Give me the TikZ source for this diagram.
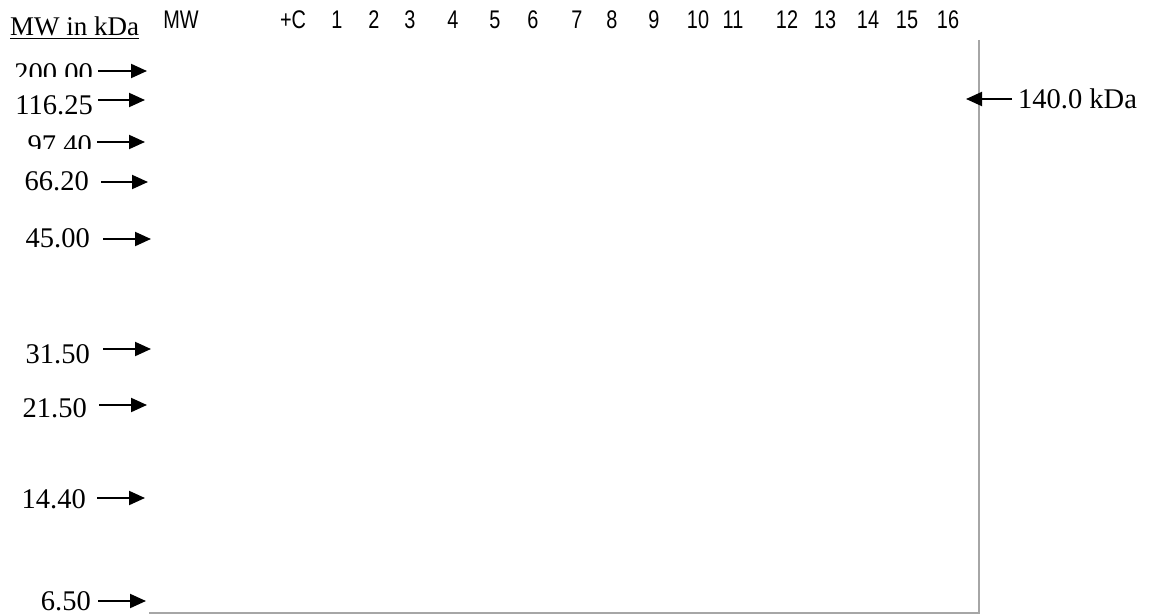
\documentclass[tikz,border=0pt]{standalone}
\usepackage{fontspec}
\setmainfont{Liberation Serif}
\newfontfamily\lanefont[FakeStretch=0.78]{Liberation Sans}
\usetikzlibrary{arrows.meta}
\tikzset{
  mwlabel/.style={anchor=base east, inner sep=0pt, font=\fontsize{28.5}{30}\selectfont},
  lanelabel/.style={anchor=base, inner sep=0pt, font=\lanefont\fontsize{25.5}{27}\selectfont},
  mwarrow/.style={line width=2pt, -{Triangle[length=16pt,width=14pt]}},
  gelline/.style={line width=1.4pt, draw=black!35},
}
\begin{document}
\begin{tikzpicture}[x=1pt,y=-1pt]
\useasboundingbox (0,0) rectangle (1151,615);
% header
\node[anchor=base west, inner sep=0pt, font=\fontsize{27}{29}\selectfont] (hdr) at (10,36) {\underline{MW in kDa}};
% lane labels
\foreach \name/\xx/\txt in {lmw/181/MW, lc/293/+C, l1/337/1, l2/374/2, l3/410/3, l4/453/4, l5/495/5, l6/533/6, l7/577/7, l8/612/8, l9/654/9, l10/698/10, l11/733/11, l12/787/12, l13/825/13, l14/868/14, l15/907/15, l16/948/16}
  \node[lanelabel] (\name) at (\xx,29) {\txt};
% gel frame
\coordinate (gtop) at (979,40);
\coordinate (gcorner) at (979,613);
\coordinate (gleft) at (149,613);
\draw[gelline] (gtop) -- (gcorner) -- (gleft);
% marker labels (some clipped as in the original)
\begin{scope}
  \clip (0,50) rectangle (97,77);
  \node[mwlabel] (m200) at (93,83) {200.00};
\end{scope}
\node[mwlabel] (m116) at (93,115) {116.25};
\begin{scope}
  \clip (0,125) rectangle (97,149);
  \node[mwlabel] (m97) at (92,154) {97.40};
\end{scope}
\node[mwlabel] (m66) at (89,190) {66.20};
\node[mwlabel] (m45) at (90,247) {45.00};
\node[mwlabel] (m31) at (90,363) {31.50};
\node[mwlabel] (m21) at (87,417) {21.50};
\node[mwlabel] (m14) at (86,508) {14.40};
\node[mwlabel] (m6) at (91,610) {6.50};
% arrows
\foreach \n/\xs/\xe/\yy in {200/98/147/71, 116/98/145/100, 97/97/145/142, 66/101/148/182, 45/103/151/239, 31/103/151/349, 21/99/147/405, 14/97/145/498, 6/98/146/601}{
  \coordinate (s\n) at (\xs,\yy);
  \coordinate (t\n) at (\xe,\yy);
  \draw[mwarrow] (s\n) -- (t\n);
}
% 140 kDa band
\node[anchor=base west, inner sep=0pt, font=\fontsize{28.5}{30}\selectfont] (band) at (1018,109) {140.0 kDa};
\coordinate (bs) at (1012,99);
\coordinate (bt) at (966,99);
\draw[mwarrow] (bs) -- (bt);
\end{tikzpicture}
\end{document}
